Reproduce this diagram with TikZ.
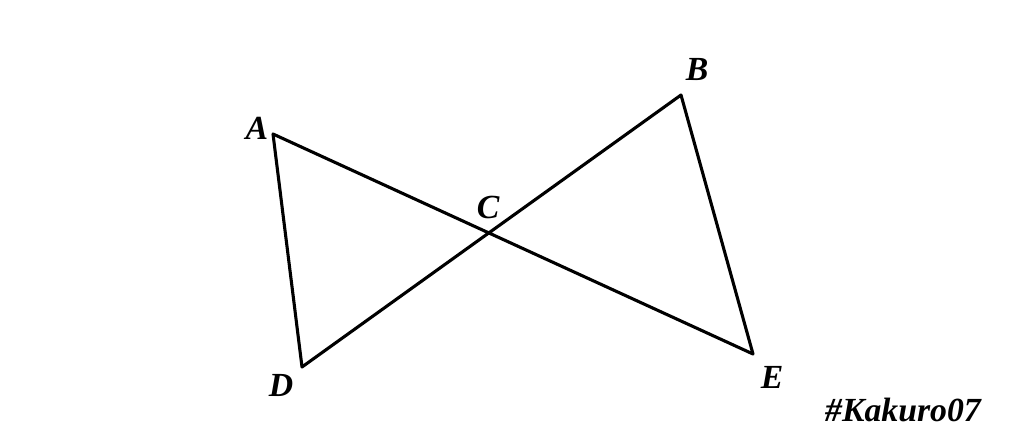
\documentclass[tikz,border=0pt]{standalone}
\usepackage{fontspec}
\setmainfont{Liberation Serif}
\tikzset{
  side/.style={line width=2.2pt, line join=round},
  vlabel/.style={font=\fontsize{24}{28}\selectfont\bfseries\itshape, inner sep=0pt}
}
\begin{document}
\begin{tikzpicture}[x=0.025cm, y=-0.025cm]
    \useasboundingbox (0,0) rectangle (1024,439);
    % vertices
    \coordinate (A) at (273,134);
    \coordinate (B) at (681,95);
    \coordinate (D) at (302,367);
    \coordinate (E) at (753,354);
    \coordinate (C) at (488,233);
    \draw[side] (A) -- (E) -- (B) -- (D) -- cycle;
    % labels
    \node[vlabel] (lA) at (257,128) {A};
    \node[vlabel] (lB) at (697,70) {B};
    \node[vlabel] (lC) at (488,207) {C};
    \node[vlabel] (lD) at (281,385) {D};
    \node[vlabel] (lE) at (772,377) {E};
    \node[vlabel] (tag) at (903,410) {\#Kakuro07};
\end{tikzpicture}
\end{document}
